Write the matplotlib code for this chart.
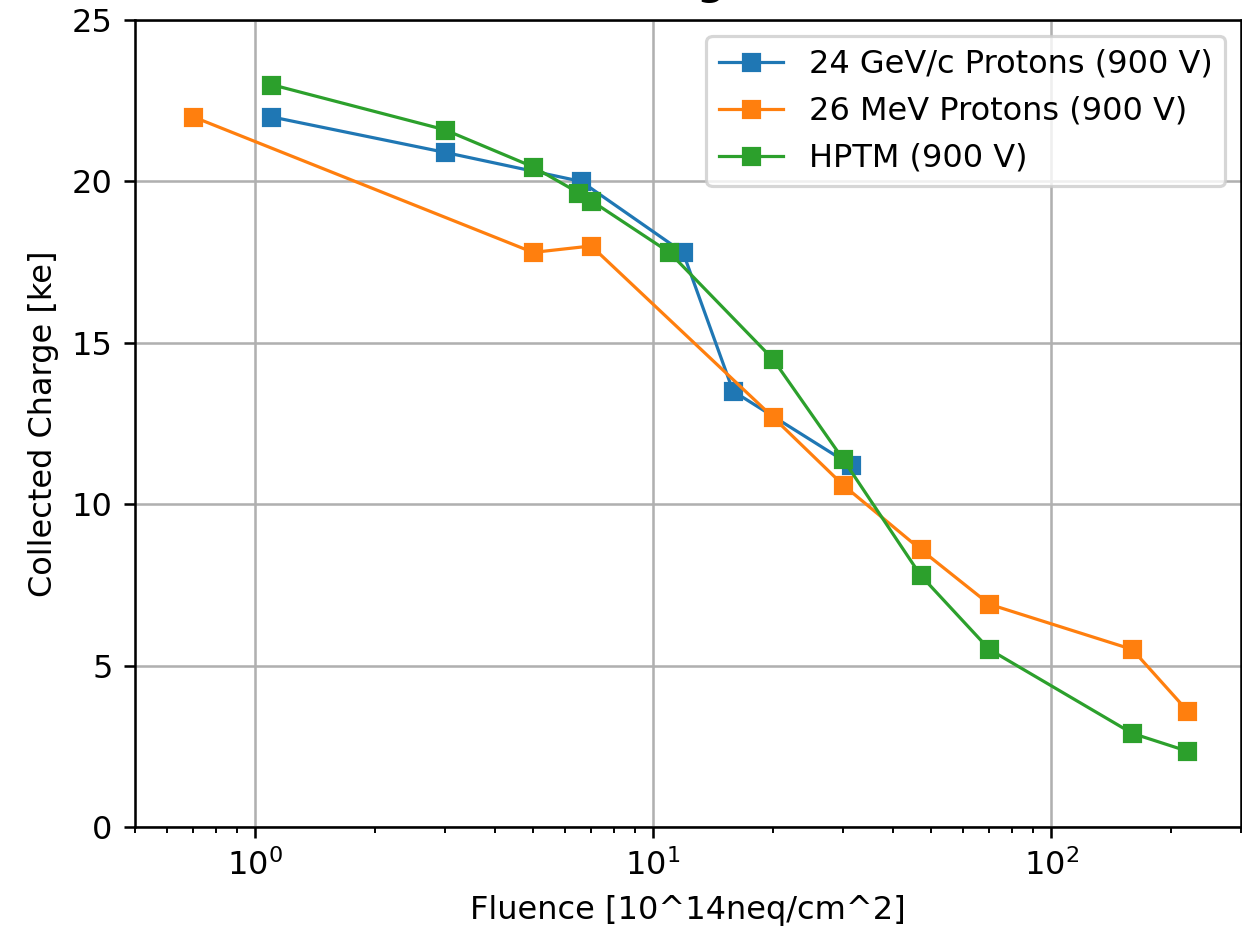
import numpy as np
import matplotlib
matplotlib.use('Agg')
import matplotlib.pyplot as plt

# fluence [10^14 neq/cm^2] and collected charge [ke]
fl_gev = [1.1, 3.0, 6.6, 11.9, 15.9, 31.5]
q_gev = [22.0, 20.9, 20.0, 17.8, 13.5, 11.2]

fl_mev = [0.7, 5.0, 7.0, 20.0, 30.0, 47.0, 70.0, 160.0, 220.0]
q_mev = [22.0, 17.8, 18.0, 12.7, 10.6, 8.6, 6.9, 5.5, 3.6]

fl_hptm = [1.1, 3.0, 5.0, 6.5, 7.0, 11.0, 20.0, 30.0, 47.0, 70.0, 160.0, 220.0]
q_hptm = [23.0, 21.6, 20.45, 19.65, 19.4, 17.8, 14.5, 11.4, 7.8, 5.5, 2.9, 2.35]

dpi = 230
fig = plt.figure(figsize=(1242 / dpi, 928 / dpi), dpi=dpi)
ax = fig.add_axes([135 / 1242, 101 / 928, 1106 / 1242, 807 / 928])

ax.plot(fl_gev, q_gev, 's-', color='tab:blue', lw=1, ms=5, label='24 GeV/c Protons (900 V)')
ax.plot(fl_mev, q_mev, 's-', color='tab:orange', lw=1, ms=5, label='26 MeV Protons (900 V)')
ax.plot(fl_hptm, q_hptm, 's-', color='tab:green', lw=1, ms=5, label='HPTM (900 V)')

ax.set_xscale('log')
ax.set_xlim(0.5, 300)
ax.set_ylim(0, 25)
ax.set_xlabel('Fluence [10^14neq/cm^2]')
ax.set_ylabel('Collected Charge [ke]')
# title sits mostly above the visible area, as in the cropped original
ax.set_title('Collected Charge vs Fluence', fontweight='bold', pad=7.8)
ax.legend(loc='upper right')
ax.grid(True)

fig.savefig('out.png', dpi=dpi)
